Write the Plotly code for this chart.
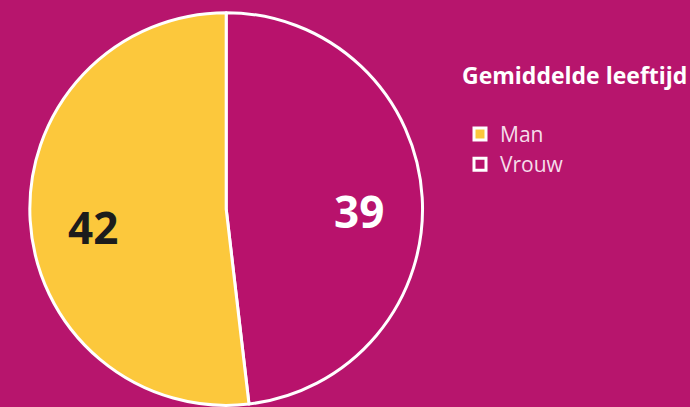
import math
import plotly.graph_objects as go

labels = ["Man", "Vrouw"]
values = [42, 39]
slice_colors = ["#FCC83C", "#B8126C"]
text_colors = ["#1C1C1C", "#FFFFFF"]
legend_title = "Gemiddelde leeftijd"

BG = "#B7156D"
W, H = 690, 407

# pie domain in pixels (left, right, top, bottom)
PL, PR, PT, PB = 30, 425, 11.5, 406.5
dom_x = [PL / W, PR / W]
dom_y = [1 - PB / H, 1 - PT / H]

# slices drawn clockwise from 12 o'clock: Vrouw first, then Man (legend reversed back to Man, Vrouw)
order = [1, 0]
fig = go.Figure(go.Pie(
    labels=[labels[i] for i in order],
    values=[values[i] for i in order],
    sort=False,
    direction="clockwise",
    rotation=0,
    marker=dict(colors=[slice_colors[i] for i in order], line=dict(color="#FFFFFF", width=3)),
    textinfo="none",
    hoverinfo="skip",
    domain=dict(x=dom_x, y=dom_y),
))

# value labels along each slice's bisector
cx, cy = (PL + PR) / 2, (PT + PB) / 2
r = (PR - PL) / 2
total = sum(values)
start = 0.0
for i in order:
    span = 360.0 * values[i] / total
    mid = math.radians(start + span / 2)
    px = cx + 0.68 * r * math.sin(mid)
    py = cy - 0.68 * r * math.cos(mid)
    fig.add_annotation(
        x=px / W, y=1 - py / H, xref="paper", yref="paper",
        xanchor="center", yanchor="middle",
        text=str(values[i]), showarrow=False, yshift=-10,
        font=dict(family="Open Sans", size=44, color=text_colors[i], weight="bold"),
    )
    start += span

fig.update_layout(
    width=W, height=H,
    margin=dict(l=0, r=0, t=0, b=0),
    paper_bgcolor=BG,
    plot_bgcolor=BG,
    legend=dict(
        title=dict(text=legend_title + "<br> ", font=dict(family="Open Sans", size=23, color="#FFFFFF", weight="bold")),
        font=dict(family="Open Sans", size=21, color="#F6DDEB"),
        traceorder="reversed",
        x=463 / W, xanchor="left",
        y=1 - 54 / H, yanchor="top",
        bgcolor="rgba(0,0,0,0)",
        borderwidth=0,
        itemclick=False,
    ),
)

fig.write_html("out.html", config={"displayModeBar": False},
               post_script="document.body.style.margin='0';")
